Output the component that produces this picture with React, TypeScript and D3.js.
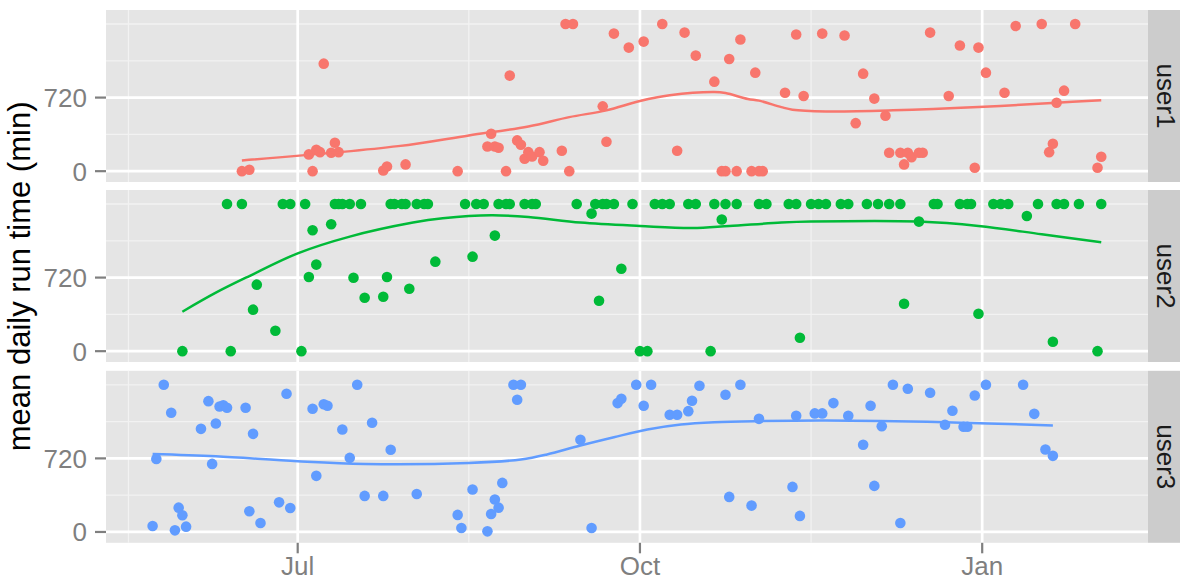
import React from "react";
import * as d3 from "d3";

// ---------------- data ----------------
const facetNames = ["user1", "user2", "user3"];
const seriesColors = ["#F8766D", "#00BA38", "#619CFF"];

const user1Points: [string, number][] = [
  ["2012-06-16", 0], ["2012-06-18", 14], ["2012-07-04", 164], ["2012-07-05", 0], ["2012-07-06", 210],
  ["2012-07-07", 186], ["2012-07-08", 1052], ["2012-07-10", 180], ["2012-07-11", 278], ["2012-07-12", 186],
  ["2012-07-24", 7], ["2012-07-25", 46], ["2012-07-30", 66], ["2012-08-13", 0], ["2012-08-21", 242],
  ["2012-08-22", 366], ["2012-08-23", 242], ["2012-08-24", 229], ["2012-08-26", 0], ["2012-08-27", 935],
  ["2012-08-29", 301], ["2012-08-30", 259], ["2012-08-31", 122], ["2012-09-01", 186], ["2012-09-02", 144],
  ["2012-09-04", 186], ["2012-09-05", 102], ["2012-09-10", 200], ["2012-09-11", 1440], ["2012-09-12", 0],
  ["2012-09-13", 1440], ["2012-09-21", 634], ["2012-09-22", 288], ["2012-09-24", 1346], ["2012-09-28", 1209],
  ["2012-10-02", 1268], ["2012-10-07", 1440], ["2012-10-11", 200], ["2012-10-13", 1356], ["2012-10-16", 1131],
  ["2012-10-21", 876], ["2012-10-23", 0], ["2012-10-24", 0], ["2012-10-25", 1098], ["2012-10-27", 0],
  ["2012-10-28", 1288], ["2012-10-31", 0], ["2012-11-01", 964], ["2012-11-02", 0], ["2012-11-03", 0],
  ["2012-11-09", 768], ["2012-11-12", 1337], ["2012-11-14", 735], ["2012-11-19", 1346], ["2012-11-25", 1327],
  ["2012-11-28", 470], ["2012-11-30", 954], ["2012-12-03", 710], ["2012-12-06", 543], ["2012-12-07", 180],
  ["2012-12-10", 180], ["2012-12-11", 66], ["2012-12-12", 180], ["2012-12-13", 137], ["2012-12-15", 180],
  ["2012-12-16", 180], ["2012-12-18", 1356], ["2012-12-23", 735], ["2012-12-26", 1229], ["2012-12-30", 33],
  ["2012-12-31", 1209], ["2013-01-02", 964], ["2013-01-07", 768], ["2013-01-10", 1420], ["2013-01-17", 1440],
  ["2013-01-19", 186], ["2013-01-20", 269], ["2013-01-21", 670], ["2013-01-23", 788], ["2013-01-26", 1440],
  ["2013-02-01", 33], ["2013-02-02", 141],
];

const user2Points: [string, number][] = [
  ["2012-06-12", 1440], ["2012-06-16", 1440], ["2012-06-27", 1440], ["2012-06-29", 1440], ["2012-07-03", 1440],
  ["2012-07-11", 1440], ["2012-07-12", 1440], ["2012-07-13", 1440], ["2012-07-15", 1440], ["2012-07-18", 1440],
  ["2012-07-26", 1440], ["2012-07-27", 1440], ["2012-07-29", 1440], ["2012-07-30", 1440], ["2012-08-02", 1440],
  ["2012-08-04", 1440], ["2012-08-05", 1440], ["2012-08-15", 1440], ["2012-08-18", 1440], ["2012-08-20", 1440],
  ["2012-08-24", 1440], ["2012-08-26", 1440], ["2012-08-27", 1440], ["2012-08-31", 1440], ["2012-09-02", 1440],
  ["2012-09-03", 1440], ["2012-09-14", 1440], ["2012-09-19", 1440], ["2012-09-21", 1440], ["2012-09-22", 1440],
  ["2012-09-24", 1440], ["2012-09-29", 1440], ["2012-10-05", 1440], ["2012-10-07", 1440], ["2012-10-09", 1440],
  ["2012-10-14", 1440], ["2012-10-16", 1440], ["2012-10-21", 1440], ["2012-10-24", 1440], ["2012-10-27", 1440],
  ["2012-11-02", 1440], ["2012-11-04", 1440], ["2012-11-10", 1440], ["2012-11-12", 1440], ["2012-11-16", 1440],
  ["2012-11-18", 1440], ["2012-11-20", 1440], ["2012-11-24", 1440], ["2012-11-26", 1440], ["2012-12-01", 1440],
  ["2012-12-04", 1440], ["2012-12-07", 1440], ["2012-12-10", 1440], ["2012-12-19", 1440], ["2012-12-20", 1440],
  ["2012-12-26", 1440], ["2012-12-28", 1440], ["2012-12-29", 1440], ["2013-01-04", 1440], ["2013-01-06", 1440],
  ["2013-01-08", 1440], ["2013-01-16", 1440], ["2013-01-21", 1440], ["2013-01-23", 1440], ["2013-01-27", 1440],
  ["2013-02-02", 1440],
  ["2012-05-31", 0], ["2012-06-13", 0], ["2012-07-02", 0], ["2012-06-20", 651], ["2012-06-19", 406],
  ["2012-06-25", 200], ["2012-07-04", 725], ["2012-07-06", 847], ["2012-07-05", 1183], ["2012-07-10", 1242],
  ["2012-07-16", 719], ["2012-07-19", 523], ["2012-07-24", 533], ["2012-07-25", 725], ["2012-07-31", 611],
  ["2012-08-07", 876], ["2012-08-17", 925], ["2012-08-23", 1131], ["2012-09-18", 1346], ["2012-09-20", 494],
  ["2012-09-26", 807], ["2012-10-01", 0], ["2012-10-03", 0], ["2012-10-20", 0], ["2012-10-23", 1288],
  ["2012-11-13", 131], ["2012-12-11", 464], ["2012-12-15", 1268], ["2012-12-31", 366], ["2013-01-13", 1323],
  ["2013-01-20", 92], ["2013-02-01", 0],
];

const user3Points: [string, number][] = [
  ["2012-05-23", 59], ["2012-05-24", 715], ["2012-05-26", 1440], ["2012-05-28", 1166], ["2012-05-29", 16],
  ["2012-05-30", 238], ["2012-05-31", 163], ["2012-06-01", 52], ["2012-06-05", 1009], ["2012-06-07", 1280],
  ["2012-06-08", 666], ["2012-06-09", 1061], ["2012-06-10", 1228], ["2012-06-11", 1240], ["2012-06-12", 1215],
  ["2012-06-17", 1215], ["2012-06-18", 202], ["2012-06-19", 960], ["2012-06-21", 88], ["2012-06-26", 290],
  ["2012-06-28", 1352], ["2012-06-29", 235], ["2012-07-05", 1205], ["2012-07-06", 549], ["2012-07-08", 1250],
  ["2012-07-09", 1235], ["2012-07-13", 1003], ["2012-07-15", 725], ["2012-07-17", 1440], ["2012-07-19", 353],
  ["2012-07-21", 1068], ["2012-07-24", 353], ["2012-07-26", 804], ["2012-08-02", 372], ["2012-08-13", 167],
  ["2012-08-14", 39], ["2012-08-17", 415], ["2012-08-21", 6], ["2012-08-22", 176], ["2012-08-23", 317],
  ["2012-08-24", 238], ["2012-08-25", 480], ["2012-08-28", 1440], ["2012-08-30", 1440], ["2012-08-29", 1294],
  ["2012-09-15", 902], ["2012-09-18", 39], ["2012-09-25", 1261], ["2012-09-26", 1303], ["2012-09-30", 1440],
  ["2012-10-02", 1235], ["2012-10-04", 1440], ["2012-10-09", 1147], ["2012-10-11", 1147], ["2012-10-14", 1182],
  ["2012-10-15", 1284], ["2012-10-17", 1431], ["2012-10-24", 1343], ["2012-10-25", 343], ["2012-10-28", 1440],
  ["2012-10-31", 258], ["2012-11-02", 1107], ["2012-11-11", 441], ["2012-11-12", 1137], ["2012-11-13", 157],
  ["2012-11-17", 1160], ["2012-11-19", 1160], ["2012-11-22", 1261], ["2012-11-26", 1137], ["2012-11-30", 853],
  ["2012-12-02", 1235], ["2012-12-03", 451], ["2012-12-05", 1035], ["2012-12-08", 1440], ["2012-12-10", 88],
  ["2012-12-12", 1401], ["2012-12-18", 1362], ["2012-12-22", 1049], ["2012-12-24", 1186], ["2012-12-27", 1029],
  ["2012-12-28", 1029], ["2012-12-30", 1336], ["2013-01-02", 1440], ["2013-01-12", 1440], ["2013-01-15", 1156],
  ["2013-01-18", 807], ["2013-01-20", 745],
];

// smoothed trend
const user1Smooth: [string, number][] = [
  ["2012-06-16", 105], ["2012-07-28", 245], ["2012-08-16", 350], ["2012-09-01", 438], ["2012-09-12", 529],
  ["2012-09-22", 595], ["2012-10-01", 686], ["2012-10-09", 742], ["2012-10-21", 774], ["2012-10-24", 764],
  ["2012-10-30", 706], ["2012-11-02", 690], ["2012-11-08", 627], ["2012-11-11", 602], ["2012-11-20", 585],
  ["2012-12-08", 595], ["2012-12-31", 627], ["2013-01-21", 670], ["2013-02-02", 693],
];
const user2Smooth: [string, number][] = [
  ["2012-05-31", 386], ["2012-06-09", 572], ["2012-06-18", 735], ["2012-07-01", 957], ["2012-07-15", 1121],
  ["2012-08-01", 1258], ["2012-08-09", 1300], ["2012-08-22", 1330],
  ["2012-09-01", 1313], ["2012-09-15", 1258], ["2012-10-01", 1225], ["2012-10-15", 1205], ["2012-10-25", 1225],
  ["2012-11-08", 1258], ["2012-11-16", 1268], ["2012-12-15", 1268], ["2012-12-31", 1225], ["2013-01-17", 1144],
  ["2013-02-02", 1065],
];
const user3Smooth: [string, number][] = [
  ["2012-05-23", 764], ["2012-06-09", 741], ["2012-07-01", 692], ["2012-07-19", 666], ["2012-08-16", 676],
  ["2012-08-30", 709], ["2012-09-06", 758], ["2012-09-15", 846], ["2012-09-24", 927], ["2012-10-03", 1003],
  ["2012-10-12", 1052], ["2012-10-21", 1074], ["2012-11-02", 1085], ["2012-11-20", 1091], ["2012-12-22", 1074],
  ["2013-01-20", 1042],
];

const xTickDates = ["2012-07-01", "2012-10-01", "2013-01-01"];
const xTickLabels = ["Jul", "Oct", "Jan"];
const xMinorAnchors = ["2012-04-01", "2012-07-01", "2012-10-01", "2013-01-01", "2013-04-01"];
const yMajorTicks = [0, 720];
const yTickLabels = ["0", "720"];
const yMinorTicks = [0, 360, 720, 1080, 1440];
const yTitle = "mean daily run time (min)";

const allPoints = [user1Points, user2Points, user3Points];
const allSmooth = [user1Smooth, user2Smooth, user3Smooth];

// ---------------- layout ----------------
const W = 1180;
const H = 581;
const panelLeft = 106;
const panelRight = 1148;
const panelTops = [10, 190, 370.8];
const panelH = 172;
const stripRight = 1180;
const font = "'Liberation Sans', Arial, Helvetica, sans-serif";

const parse = d3.timeParse("%Y-%m-%d") as (s: string) => Date;
const DAY = 86400000;

export default function App() {
  const x = d3
    .scaleTime()
    .domain([
      new Date(parse("2012-07-01").getTime() - 51.53 * DAY),
      new Date(parse("2013-01-01").getTime() + 44.57 * DAY),
    ])
    .range([panelLeft, panelRight]);
  const y = d3.scaleLinear().domain([-106, 1577]).range([panelH, 0]);

  const majorX = xTickDates.map((d) => x(parse(d)));
  const anchors = xMinorAnchors.map((d) => parse(d).getTime());
  const minorX: number[] = [];
  for (let i = 0; i < anchors.length; i++) {
    minorX.push(x(new Date(anchors[i])));
    if (i < anchors.length - 1) minorX.push(x(new Date((anchors[i] + anchors[i + 1]) / 2)));
  }
  const minorXIn = minorX.filter((v) => v >= panelLeft && v <= panelRight);

  const line = d3
    .line<[string, number]>()
    .x((d) => x(parse(d[0])))
    .y((d) => y(d[1]))
    .curve(d3.curveCatmullRom.alpha(0.5));

  const plotTop = panelTops[0];
  const plotBottom = panelTops[2] + panelH;

  return (
    <svg
      width={W}
      height={H}
      style={{ position: "absolute", left: 0, top: 0, background: "#fff" }}
      fontFamily={font}
    >
      {facetNames.map((name, i) => {
        const top = panelTops[i];
        return (
          <g key={name} transform={`translate(0,${top})`}>
            <rect x={panelLeft} y={0} width={panelRight - panelLeft} height={panelH} fill="#E5E5E5" />
            {yMinorTicks.map((v) => (
              <line key={"ym" + v} x1={panelLeft} x2={panelRight} y1={y(v)} y2={y(v)} stroke="#F2F2F2" strokeWidth={1.3} />
            ))}
            {minorXIn.map((v, k) => (
              <line key={"xm" + k} x1={v} x2={v} y1={0} y2={panelH} stroke="#F2F2F2" strokeWidth={1.3} />
            ))}
            {yMajorTicks.map((v) => (
              <line key={"yM" + v} x1={panelLeft} x2={panelRight} y1={y(v)} y2={y(v)} stroke="#FFFFFF" strokeWidth={2.7} />
            ))}
            {majorX.map((v, k) => (
              <line key={"xM" + k} x1={v} x2={v} y1={0} y2={panelH} stroke="#FFFFFF" strokeWidth={2.7} />
            ))}
            {allPoints[i].map((d, k) => (
              <circle key={k} cx={x(parse(d[0]))} cy={y(d[1])} r={5.3} fill={seriesColors[i]} />
            ))}
            <path d={line(allSmooth[i]) || ""} fill="none" stroke={seriesColors[i]} strokeWidth={2.5} />
            {/* y axis */}
            {yMajorTicks.map((v, k) => (
              <g key={"yt" + v}>
                <line x1={95} x2={panelLeft} y1={y(v)} y2={y(v)} stroke="#7F7F7F" strokeWidth={2.2} />
                <text
                  x={87}
                  y={y(v)}
                  dy="0.36em"
                  textAnchor="end"
                  fontSize={26}
                  fill="#7F7F7F"
                >
                  {yTickLabels[k]}
                </text>
              </g>
            ))}
            {/* strip */}
            <rect x={panelRight} y={0} width={stripRight - panelRight} height={panelH} fill="#CCCCCC" />
            <text
              transform={`translate(${1157},${panelH / 2}) rotate(90)`}
              textAnchor="middle"
              fontSize={26}
              fill="#1A1A1A"
            >
              {name}
            </text>
          </g>
        );
      })}
      {/* x axis */}
      {majorX.map((v, k) => (
        <g key={"xt" + k}>
          <line x1={v} x2={v} y1={plotBottom} y2={plotBottom + 10.5} stroke="#7F7F7F" strokeWidth={2.2} />
          <text x={v} y={575.3} textAnchor="middle" fontSize={26} fill="#7F7F7F">
            {xTickLabels[k]}
          </text>
        </g>
      ))}
      <text
        transform={`translate(29.5,${(plotTop + plotBottom) / 2}) rotate(-90)`}
        textAnchor="middle"
        fontSize={31}
        fill="#000"
      >
        {yTitle}
      </text>
    </svg>
  );
}
